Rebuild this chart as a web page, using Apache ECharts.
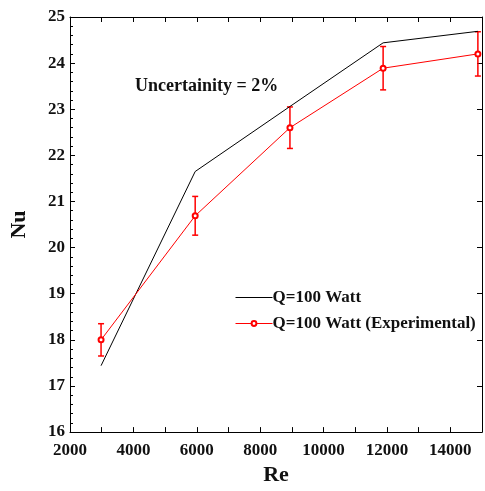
<!DOCTYPE html>
<html><head><meta charset="utf-8">
<script src="https://cdn.jsdelivr.net/npm/echarts@6/dist/echarts.min.js"></script>
<style>html,body{margin:0;padding:0;background:#fff}#c{width:485px;height:491px}</style>
</head><body><div id="c"></div>
<script>
const reValues = [2980, 5950, 8940, 11880, 14870];
const nuModel = [17.44, 21.65, 23.06, 24.44, 24.69];
const nuExp = [18.0, 20.69, 22.6, 23.89, 24.2];
const nuErr = [0.35, 0.42, 0.45, 0.47, 0.48];
const seriesNames = ['Q=100 Watt', 'Q=100 Watt (Experimental)'];
const note = 'Uncertainity = 2%';

const FONT = '"Liberation Serif", "Times New Roman", serif';
const chart = echarts.init(document.getElementById('c'));
const axisBase = {
  type: 'value',
  axisLine: {show: true, lineStyle: {color: '#000', width: 1}},
  axisTick: {show: true, inside: true, length: 5, lineStyle: {color: '#000'}},
  splitLine: {show: false}
};
chart.setOption({
  animation: false,
  backgroundColor: '#fff',
  title: {
    text: note, left: 130, top: 72,
    textStyle: {fontFamily: FONT, fontWeight: 'bold', fontSize: 18, color: '#111'}
  },
  legend: {
    orient: 'vertical', left: 230, top: 284, itemWidth: 37, itemHeight: 6, itemGap: 9,
    data: [
      {name: seriesNames[0], itemStyle: {opacity: 0}, lineStyle: {width: 1}},
      {name: seriesNames[1], lineStyle: {width: 1}}
    ],
    textStyle: {fontFamily: FONT, fontWeight: 'bold', fontSize: 17, color: '#111', padding: [0, 0, 0, -5]}
  },
  grid: {left: 65, top: 17, right: 1, bottom: 52, containLabel: false},
  xAxis: [
    Object.assign({}, axisBase, {
      min: 2000, max: 15000, interval: 1000, position: 'bottom',
      name: 'Re', nameLocation: 'middle', nameGap: 29,
      nameTextStyle: {fontFamily: FONT, fontWeight: 'bold', fontSize: 22, color: '#111'},
      axisLabel: {
        margin: 10, fontFamily: FONT, fontWeight: 'bold', fontSize: 17, color: '#111',
        formatter: v => (v % 2000 === 0 && v < 15000) ? String(v) : ''
      }
    }),
    Object.assign({}, axisBase, {
      min: 2000, max: 15000, interval: 1000, position: 'top',
      axisLabel: {show: false}
    })
  ],
  yAxis: [
    Object.assign({}, axisBase, {
      min: 16, max: 25, interval: 1, position: 'left',
      name: 'Nu', nameLocation: 'middle', nameGap: 40,
      nameTextStyle: {fontFamily: FONT, fontWeight: 'bold', fontSize: 22, color: '#111'},
      minorTick: {show: true, splitNumber: 5, length: 3, lineStyle: {color: '#000'}},
      axisLabel: {margin: 5, fontFamily: FONT, fontWeight: 'bold', fontSize: 17, color: '#111'}
    }),
    Object.assign({}, axisBase, {
      min: 16, max: 25, interval: 1, position: 'right',
      axisLabel: {show: false}
    })
  ],
  series: [
    {
      name: seriesNames[0], type: 'line', xAxisIndex: 0, yAxisIndex: 0,
      data: reValues.map((x, i) => [x, nuModel[i]]),
      symbol: 'none', lineStyle: {color: '#000', width: 1}, itemStyle: {color: '#000'}
    },
    {
      name: seriesNames[1], type: 'line', xAxisIndex: 0, yAxisIndex: 0,
      data: reValues.map((x, i) => [x, nuExp[i]]),
      symbol: 'emptyCircle', symbolSize: 5, showSymbol: true,
      lineStyle: {color: '#ff0000', width: 1}, itemStyle: {color: '#ff0000', borderWidth: 1}
    },
    {
      name: 'err', type: 'custom', xAxisIndex: 0, yAxisIndex: 0, z: 3,
      data: reValues.map((x, i) => [x, nuExp[i] - nuErr[i], nuExp[i] + nuErr[i]]),
      renderItem: function (params, api) {
        const x = api.value(0);
        const lo = api.coord([x, api.value(1)]);
        const hi = api.coord([x, api.value(2)]);
        const w = 3;
        const st = {stroke: '#ff0000', lineWidth: 1.5};
        return {type: 'group', children: [
          {type: 'line', shape: {x1: lo[0], y1: lo[1], x2: hi[0], y2: hi[1]}, style: st},
          {type: 'line', shape: {x1: lo[0] - w, y1: lo[1], x2: lo[0] + w, y2: lo[1]}, style: st},
          {type: 'line', shape: {x1: hi[0] - w, y1: hi[1], x2: hi[0] + w, y2: hi[1]}, style: st}
        ]};
      }
    }
  ]
});
</script></body></html>
